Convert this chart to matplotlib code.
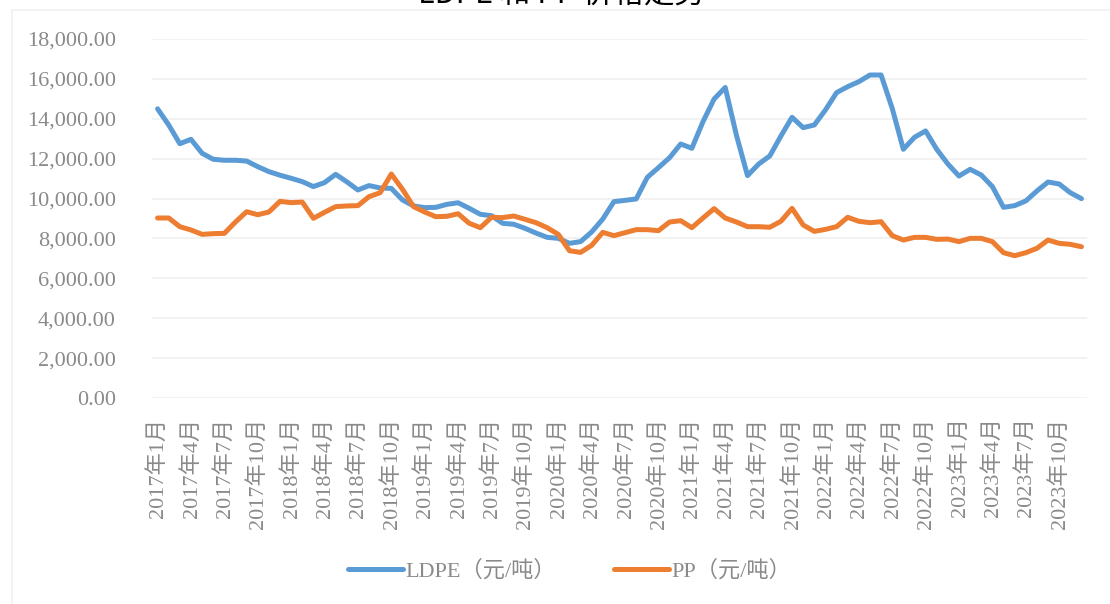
import matplotlib
matplotlib.use("Agg")
import matplotlib.pyplot as plt
from matplotlib.patches import Rectangle

# Monthly prices, 2017-01 .. 2023-12
years = list(range(2017, 2024))
months = [f"{y}年{m}月" for y in years for m in range(1, 13)]

ldpe = [14500, 13690, 12750, 12970, 12270, 11970, 11920, 11920, 11880, 11600, 11350, 11170,
        11015, 10850, 10600, 10800, 11215, 10840, 10430, 10650, 10530, 10510, 9930, 9630,
        9545, 9560, 9710, 9790, 9510, 9210, 9140, 8760, 8710, 8510, 8270, 8055,
        8005, 7755, 7840, 8325, 8975, 9845, 9910, 9980, 11065, 11550, 12050, 12735,
        12520, 13855, 14990, 15570, 13185, 11150, 11730, 12135, 13135, 14075, 13555, 13690,
        14440, 15310, 15610, 15860, 16195, 16195, 14525, 12470, 13070, 13390, 12470, 11735,
        11130, 11465, 11180, 10600, 9560, 9645, 9880, 10380, 10830, 10730, 10295, 9995]

pp = [9025, 9025, 8590, 8425, 8205, 8240, 8255, 8825, 9340, 9190, 9325, 9860,
      9795, 9825, 9010, 9310, 9595, 9630, 9645, 10095, 10295, 11230, 10465, 9595,
      9325, 9090, 9110, 9240, 8760, 8540, 9060, 9045, 9125, 8960, 8790, 8540,
      8205, 7385, 7300, 7655, 8305, 8140, 8290, 8440, 8440, 8390, 8825, 8890,
      8540, 9025, 9495, 9025, 8825, 8590, 8590, 8560, 8860, 9510, 8675, 8355,
      8455, 8590, 9060, 8860, 8790, 8840, 8140, 7920, 8055, 8055, 7955, 7970,
      7840, 8005, 8005, 7840, 7285, 7135, 7285, 7505, 7920, 7755, 7705, 7585]

yticks = list(range(0, 18001, 2000))

FONT = ["Liberation Serif", "Noto Sans CJK SC"]
GREY = "#8a8a8a"

fig = plt.figure(figsize=(11.1, 6.04), dpi=100)
ax = fig.add_axes([152 / 1110, 1 - 398 / 604, (1087 - 152) / 1110, (398 - 39) / 604])

x = list(range(len(months)))
ax.plot(x, ldpe, color="#5B9BD5", lw=3.6, solid_joinstyle="round",
        solid_capstyle="round", label="LDPE（元/吨）")
ax.plot(x, pp, color="#ED7D31", lw=3.6, solid_joinstyle="round",
        solid_capstyle="round", label="PP（元/吨）")

ax.set_xlim(-0.5, len(months) - 0.5)
ax.set_ylim(0, 18000)
ax.set_yticks(yticks)
ax.set_yticklabels([f"{v:,.2f}" for v in yticks], family=FONT, fontsize=16, color=GREY)
ax.set_xticks(x[::3])
ax.set_xticklabels(months[::3], rotation=90, family=FONT, fontsize=16, color=GREY,
                   va="top", ha="center")
ax.tick_params(axis="both", length=0)
ax.tick_params(axis="y", pad=26)
ax.tick_params(axis="x", pad=14)
ax.grid(axis="y", color="#f0f0f0", lw=1.2)
ax.set_axisbelow(True)
for s in ax.spines.values():
    s.set_visible(False)

leg = fig.legend(loc="center", bbox_to_anchor=(0.513, 1 - 571 / 604), ncol=2,
                 frameon=False, handlelength=2.5, columnspacing=2.6, handletextpad=0.1,
                 prop={"family": FONT, "size": 16})
for t in leg.get_texts():
    t.set_color(GREY)

# chart-area border (faint)
fig.patches.append(Rectangle((12 / 1110, -0.1), 1.2, 1.1 - 10 / 604,
                             transform=fig.transFigure, fill=False,
                             edgecolor="#f0f0f0", lw=1.2))

# title, clipped by the top edge as in the source image
fig.text(561 / 1110, 1 - 3 / 604, "LDPE 和 PP 价格走势", ha="center", va="baseline",
         fontsize=22, color="black", family=["Noto Sans CJK SC", "DejaVu Sans"])

fig.savefig("out.png", dpi=100)
